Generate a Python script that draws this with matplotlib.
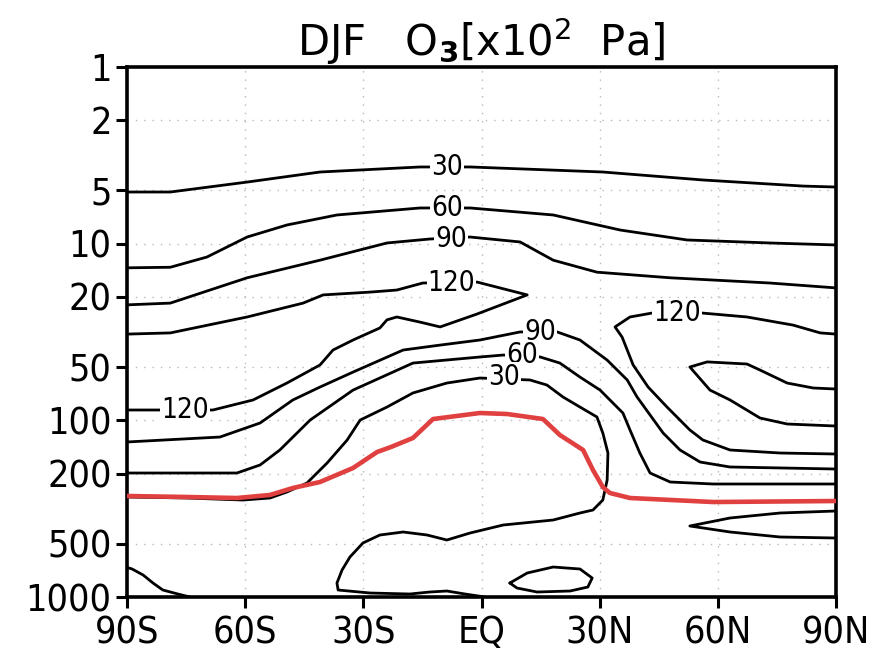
import matplotlib
matplotlib.use('Agg')
import matplotlib.pyplot as plt
from matplotlib import font_manager

# ---- contour lines (latitude, pressure hPa) ----
c30_top_lat = [-90, -79, -59.5, -41, -15.6, -2.9, 30.8, 56.2, 81.6, 90]
c30_top_p = [5.1, 5.1, 4.48, 3.93, 3.68, 3.68, 3.93, 4.36, 4.72, 4.78]

c60_top_lat = [-90, -79, -69.7, -59.5, -49.4, -36.7, -15.6, -2.9, 18.2, 35.2, 52.2, 73.2, 90]
c60_top_p = [13.7, 13.6, 11.9, 9.17, 7.84, 6.88, 6.28, 6.28, 6.88, 8.37, 9.53, 9.91, 10.17]

c90_top_lat = [-90, -79, -59.5, -41, -24, -13.1, -2.9, 9.8, 18.2, 29.3, 47.9, 73.2, 90]
c90_top_p = [22.2, 21.7, 15.6, 12.4, 9.91, 9.41, 9.17, 9.78, 12.4, 14.5, 15.6, 16.7, 17.8]

c120_lat = [-90, -79, -59.5, -45.3, -40.2, -28.3, -21.5, -14.9, -1.1, 11.6, -1.1, -10.5,
            -15.6, -21.5, -24, -25.8, -32.6, -37.7, -41, -49.4, -58, -68.2, -88.5, -90]
c120_p = [32.5, 32.0, 26.0, 21.7, 19.5, 18.8, 18.3, 16.7, 16.5, 19.5, 25.0, 29.6,
          27.8, 26.0, 27.0, 30.0, 35.1, 40.0, 48.6, 61.5, 76.7, 87.4, 87.4, 87.4]

c90_low_lat = [-90, -66.4, -56.2, -47.9, -41, -32.6, -19.9, -10.5, -0.4, 9.8, 19.2, 25,
               31.9, 37, 39.5, 42.8, 46.1, 50.4, 55.5, 63.1, 90]
c90_low_p = [132.6, 124.3, 103.5, 76.7, 64.8, 53.3, 40.0, 37.5, 35.1, 31.6, 31.6, 35.1,
             45.6, 59.1, 73.8, 93.3, 117.9, 147.2, 172.2, 183.7, 188.6]

c60_low_lat = [-90, -62.1, -56.2, -51.2, -43.5, -32.6, -17.4, -0.4, 5.5, 14.9, 19.9, 25,
               30.1, 35.9, 37.7, 40.2, 42.8, 47.9, 58.8, 90]
c60_low_p = [198.7, 198.7, 178.9, 147.2, 99.6, 67.4, 47.4, 43.8, 42.7, 43.8, 47.4, 56.9,
             67.4, 90.9, 113.4, 153.1, 198.7, 223.4, 229.3, 229.3]

c30_lat = [-90, -74.8, -60.6, -53.7, -49.4, -44.3, -39.2, -34.1, -30.8, -24, -17.4, -8.8,
           -0.4, 12.3, 16.6, 20.7, 25, 29.3, 30.8, 32.1, 31.9, 30.8, 28.3, 25, 18.2, 5.5,
           -2.9, -8.8, -13.8, -19.9, -25.8, -30.1, -33.4, -35.4, -36.7, -36.4, -28.3,
           -18.2, -13.1, -8.8, -4.2, 0.9]
c30_p = [271.6, 275.2, 282.5, 275.2, 254.5, 226.3, 174.4, 129.2, 99.6, 84.1, 70.0, 61.5,
         57.6, 59.1, 63.1, 73.8, 84.1, 95.7, 117.9, 153.1, 217.7, 282.5, 321.8, 334.6,
         366.6, 391.3, 434.3, 475.8, 445.8, 428.6, 445.8, 494.6, 593.8, 703.5, 833.4,
         912.9, 949.3, 961.7, 937.0, 924.8, 961.7, 1000]

r120_lat = [90, 86, 79.1, 67.4, 56, 43.3, 37.7, 33.9, 35.7, 38.5, 42.3, 47.1, 52.9, 56.2,
            63.1, 75.8, 90]
r120_p = [32.5, 32.0, 28.9, 26.0, 24.7, 24.7, 26.0, 29.6, 33.8, 48.6, 64.8, 84.1, 113.4,
          129.2, 147.2, 153.1, 155.1]

tongue_mid_lat = [90, 84.2, 77.6, 70.7, 67.4, 57.3, 52.9, 58.0, 63.1, 70.7, 77.6, 90]
tongue_mid_p = [66.5, 65.6, 61.5, 51.9, 48.0, 46.7, 49.9, 67.4, 76.7, 97.0, 104.9, 107.7]

tongue_low_lat = [90, 75.8, 63.1, 52.9, 63.1, 75.8, 90]
tongue_low_p = [326.0, 334.6, 357.1, 396.4, 428.6, 457.5, 463.5]

corner_lat = [-90, -88.7, -85.9, -83.4, -80.9, -77.1, -74]
corner_p = [680, 694.3, 750.9, 833.4, 912.9, 961.7, 1000]

loop_lat = [7.2, 11.6, 18.2, 25, 28.1, 27, 22.5, 14.1, 9, 7.2]
loop_p = [833.4, 731.5, 676.5, 694.3, 780.8, 877.9, 924.8, 937.0, 889.5, 833.4]

# tropopause (red)
trop_lat = [-90, -74.8, -62.1, -53.7, -47.9, -41, -32.6, -26.5, -23, -17.4, -12.3, -0.4,
            6.5, 15.6, 19.9, 25.8, 28.3, 30.8, 32.6, 37.7, 58.8, 90]
trop_p = [268.1, 271.6, 275.2, 264.6, 241.5, 223.4, 186.1, 151.1, 141.6, 125.9, 98.3, 90.9,
          92.1, 98.3, 121.1, 147.2, 191.1, 238.5, 257.8, 275.2, 290.0, 286.2]

# contour labels
label_text = ['30', '60', '90', '120', '120', '90', '60', '30', '120']
label_lat = [-8.8, -8.8, -7.7, -7.7, 49.6, 14.9, 10.3, 5.7, -75.3]
label_p = [3.68, 6.28, 9.41, 16.7, 24.7, 31.6, 42.7, 56.9, 87.4]

xticks = [-90, -60, -30, 0, 30, 60, 90]
xticklabels = ['90S', '60S', '30S', 'EQ', '30N', '60N', '90N']
yticks = [1, 2, 5, 10, 20, 50, 100, 200, 500, 1000]

# look for a narrow face, the original uses a condensed lettering
narrow = None
for f in font_manager.fontManager.ttflist:
    fn = f.fname.lower()
    if 'condensed' in fn and 'dejavusans' in fn and 'bold' not in fn and 'oblique' not in fn:
        narrow = f.fname
        break
    if 'narrow' in fn and 'liberation' in fn and 'bold' not in fn and 'italic' not in fn:
        narrow = f.fname
if narrow:
    tick_font = font_manager.FontProperties(fname=narrow, size=27)
    lab_font = font_manager.FontProperties(fname=narrow, size=20)
else:
    tick_font = font_manager.FontProperties(family='DejaVu Sans', size=24)
    lab_font = font_manager.FontProperties(family='DejaVu Sans', size=18)

fig = plt.figure(figsize=(8.86, 6.5), dpi=100)
ax = fig.add_axes([127 / 886, 53 / 650, 709 / 886, 530 / 650])

black = [(c30_top_lat, c30_top_p), (c60_top_lat, c60_top_p), (c90_top_lat, c90_top_p),
         (c120_lat, c120_p), (c90_low_lat, c90_low_p), (c60_low_lat, c60_low_p),
         (c30_lat, c30_p), (r120_lat, r120_p), (tongue_mid_lat, tongue_mid_p),
         (tongue_low_lat, tongue_low_p), (corner_lat, corner_p), (loop_lat, loop_p)]
for la, pp in black:
    ax.plot(la, pp, color='black', lw=2.0, solid_joinstyle='round',
            solid_capstyle='round', zorder=3)

ax.plot(trop_lat, trop_p, color='#e0403f', lw=3.3, solid_joinstyle='round', zorder=4)

for t, la, pp in zip(label_text, label_lat, label_p):
    ax.text(la, pp, t, fontproperties=lab_font, ha='center', va='center', zorder=5,
            bbox=dict(fc='white', ec='none', pad=0.6))

ax.set_yscale('log')
ax.set_ylim(1000, 1)
ax.set_xlim(-90, 90)
ax.set_yticks(yticks)
ax.set_yticklabels([str(v) for v in yticks], fontproperties=tick_font)
ax.yaxis.set_minor_locator(matplotlib.ticker.NullLocator())
ax.set_xticks(xticks)
ax.set_xticklabels(xticklabels, fontproperties=tick_font)
ax.tick_params(axis='both', length=8, width=2.2, direction='out')
ax.tick_params(axis='y', pad=3)
ax.tick_params(axis='x', pad=5)
ax.grid(True, color='#b8b8b8', linestyle=(0, (1, 5)), lw=1.0)
for s in ax.spines.values():
    s.set_linewidth(2.6)

ax.set_title(r'DJF   O$_\mathbf{3}$[x10$^2$  Pa]', fontsize=30, pad=8)

fig.savefig('out.png', dpi=100)
